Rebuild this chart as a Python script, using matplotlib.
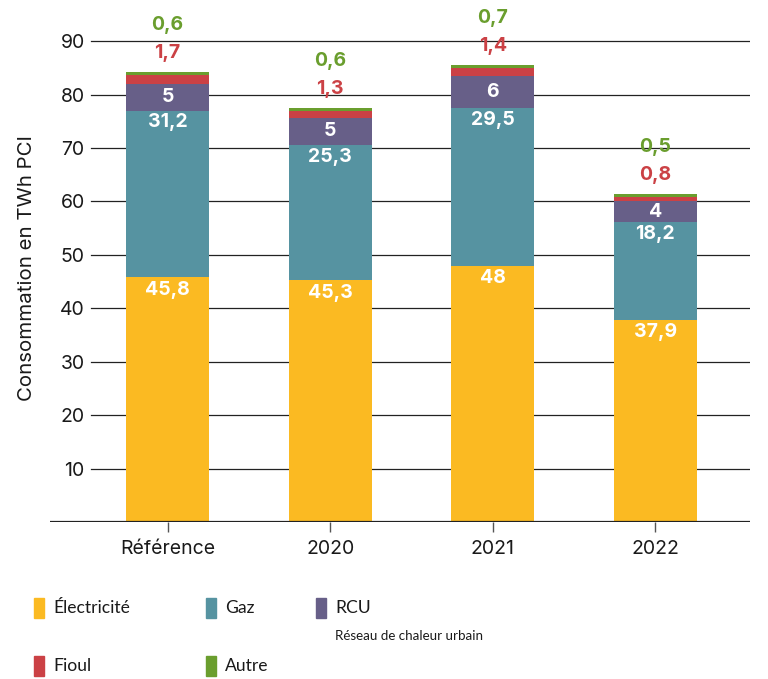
import matplotlib

matplotlib.use("Agg")
import matplotlib.pyplot as plt  # noqa: E402
from matplotlib.patches import Rectangle  # noqa: E402

# data (TWh PCI)
years = ["Référence", "2020", "2021", "2022"]
electricite = [45.8, 45.3, 48.0, 37.9]
gaz = [31.2, 25.3, 29.5, 18.2]
rcu = [5.0, 5.0, 6.0, 4.0]
fioul = [1.7, 1.3, 1.4, 0.8]
autre = [0.6, 0.6, 0.7, 0.5]

C_ELEC = "#FBBA22"
C_GAZ = "#5693A1"
C_RCU = "#675F88"
C_FIOUL = "#CB4145"
C_AUTRE = "#6A9E2E"
TEXT = "#1a1a1a"
FONT = ["Inter", "DejaVu Sans"]
LEG_FONT = ["Lato", "DejaVu Sans"]
FS = 14

plt.rcParams["font.family"] = FONT


def fmt(v):
    s = f"{v:.1f}".replace(".", ",")
    return s[:-2] if s.endswith(",0") else s


fig = plt.figure(figsize=(7.68, 6.79), dpi=100)
ax = fig.add_axes([50 / 768, 1 - 522 / 679, 700 / 768, 522 / 679])

x = list(range(len(years)))
w = 0.51
bottom = [0.0] * len(x)
for vals, col in [(electricite, C_ELEC), (gaz, C_GAZ), (rcu, C_RCU),
                  (fioul, C_FIOUL), (autre, C_AUTRE)]:
    ax.bar(x, vals, bottom=bottom, width=w, color=col, zorder=2)
    bottom = [b + v for b, v in zip(bottom, vals)]

# labels inside bars
for i in x:
    e, g, r = electricite[i], gaz[i], rcu[i]
    ax.text(i, e - 2.4, fmt(e), ha="center", va="center", color="white",
            fontsize=FS, weight="bold", zorder=3)
    ax.text(i, e + g - 2.2, fmt(g), ha="center", va="center", color="white",
            fontsize=FS, weight="bold", zorder=3)
    ax.text(i, e + g + r / 2, fmt(r), ha="center", va="center", color="white",
            fontsize=FS, weight="bold", zorder=3)
    top = bottom[i]
    ax.text(i, top + 3.5, fmt(fioul[i]), ha="center", va="center", color=C_FIOUL,
            fontsize=FS, weight="bold", zorder=3)
    ax.text(i, top + 8.8, fmt(autre[i]), ha="center", va="center", color=C_AUTRE,
            fontsize=FS, weight="bold", zorder=3)

ax.set_xlim(-0.724, 3.583)
ax.set_ylim(0, 97.7)
ax.set_yticks(range(10, 100, 10))
for t in range(10, 100, 10):
    ax.axhline(t, xmin=41 / 700, xmax=1, color="#222222", linewidth=0.9, zorder=1)
ax.axhline(0, color="#222222", linewidth=1.6, zorder=4)
for s in ax.spines.values():
    s.set_visible(False)
ax.tick_params(axis="y", length=0, labelsize=FS, colors=TEXT, pad=-25)
for lbl in ax.get_yticklabels():
    lbl.set_horizontalalignment("right")
ax.set_xticks(x)
ax.set_xticklabels(years)
ax.tick_params(axis="x", length=7, width=1, color="#555555", labelsize=FS,
               labelcolor=TEXT, pad=6)
ax.set_ylabel("Consommation en TWh PCI", fontsize=14.7, color=TEXT)
ax.yaxis.set_label_coords(-14 / 700, 0.487)

# legend
legend = [("Électricité", C_ELEC, 34, 608), ("Gaz", C_GAZ, 206, 608),
          ("RCU", C_RCU, 316, 608), ("Fioul", C_FIOUL, 34, 666),
          ("Autre", C_AUTRE, 206, 666)]
for name, col, px, py in legend:
    fig.patches.append(Rectangle((px / 768, 1 - (py + 10) / 679), 10 / 768, 20 / 679,
                                 transform=fig.transFigure, color=col))
    fig.text((px + 19) / 768, 1 - py / 679, name, ha="left", va="center",
             fontsize=12.6, color=TEXT, family=LEG_FONT)
fig.text(335 / 768, 1 - 636 / 679, "Réseau de chaleur urbain", ha="left", va="center",
         fontsize=9.6, color=TEXT, family=LEG_FONT)

fig.savefig("out.png", dpi=100, facecolor="white")
